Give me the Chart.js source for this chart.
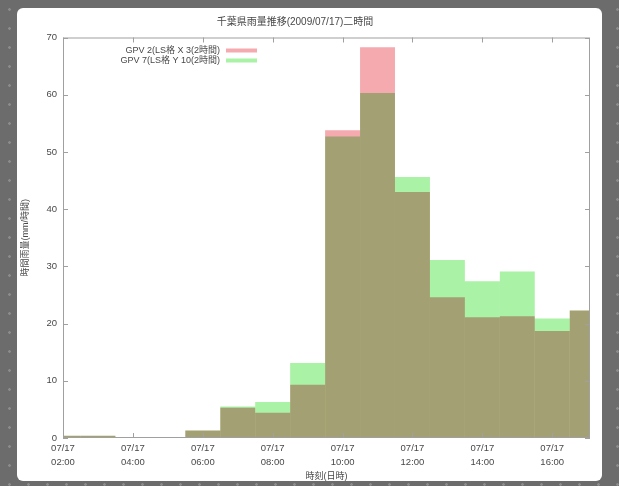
<!DOCTYPE html>
<html>
<head>
<meta charset="utf-8">
<script src="https://cdn.jsdelivr.net/npm/chart.js@4/dist/chart.umd.min.js"></script>
<style>
  html, body { margin: 0; padding: 0; }
  body {
    width: 619px; height: 486px; overflow: hidden; position: relative;
    background-color: #6c6c6c;
    background-image: radial-gradient(circle, rgba(255,255,255,0.22) 1px, transparent 1.6px);
    background-size: 19px 19px;
  }
  #panel {
    position: absolute; left: 17px; top: 8px; width: 585px; height: 473px;
    background: #ffffff; border-radius: 6px;
  }
  #chart { position: absolute; left: 0; top: 0; }
</style>
</head>
<body>
<div id="panel"></div>
<canvas id="chart" width="619" height="486"></canvas>
<script>
// Hourly totals, bars centred on each hour
const hours = [2, 3, 4, 5, 6, 7, 8, 9, 10, 11, 12, 13, 14, 15, 16, 17];
const seriesA = [0.4, 0.4, 0.1, 0.1, 1.3, 5.3, 4.4, 9.3, 53.8, 68.3, 43.0, 24.6, 21.1, 21.3, 18.7, 22.3];
const seriesB = [0.4, 0.4, 0.1, 0.1, 1.3, 5.5, 6.3, 13.1, 52.7, 60.3, 45.6, 31.1, 27.4, 29.1, 20.9, 22.3];
const seriesNames = ['GPV 2(LS格 X 3(2時間)', 'GPV 7(LS格 Y 10(2時間)'];
const seriesColors = ['#f5aab0', '#aaf2a6'];

// Axis ticks
const tickDate = '07/17';
const tickHours = [2, 4, 6, 8, 10, 12, 14, 16];
const yTicks = [0, 10, 20, 30, 40, 50, 60, 70];

const titleText = '千葉県雨量推移(2009/07/17)二時間';
const xTitle = '時刻(日時)';
const yTitle = '時間雨量(mm/時間)';

const FONT = "'Liberation Sans', 'Noto Sans CJK JP', sans-serif";
const TEXT = '#484848';
const FRAME = '#a0a0a0';

const pad2 = n => (n < 10 ? '0' : '') + n;

// Overlapping bars are multiplied so the shared part turns olive
const multiplyBars = {
  id: 'multiplyBars',
  beforeDatasetsDraw(chart) { chart.ctx.save(); chart.ctx.globalCompositeOperation = 'multiply'; },
  afterDatasetsDraw(chart) { chart.ctx.restore(); }
};

// Plot frame, inward tick marks and the in-plot key
const frameAndKey = {
  id: 'frameAndKey',
  afterDraw(chart) {
    const { ctx, chartArea: a, scales } = chart;
    ctx.save();
    ctx.strokeStyle = FRAME;
    ctx.lineWidth = 1;
    ctx.strokeRect(a.left + 0.5, a.top + 0.5, a.right - a.left - 1, a.bottom - a.top - 1);
    const tl = 5;
    ctx.beginPath();
    scales.x.ticks.forEach(t => {
      const px = Math.round(scales.x.getPixelForValue(t.value)) + 0.5;
      ctx.moveTo(px, a.bottom); ctx.lineTo(px, a.bottom - tl);
      ctx.moveTo(px, a.top); ctx.lineTo(px, a.top + tl);
    });
    scales.y.ticks.forEach(t => {
      const py = Math.round(scales.y.getPixelForValue(t.value)) + 0.5;
      ctx.moveTo(a.left, py); ctx.lineTo(a.left + tl, py);
      ctx.moveTo(a.right, py); ctx.lineTo(a.right - tl, py);
    });
    ctx.stroke();

    ctx.font = '9px ' + FONT;
    ctx.fillStyle = TEXT;
    ctx.textAlign = 'right';
    ctx.textBaseline = 'middle';
    const textX = a.left + 157;
    seriesNames.forEach((name, i) => {
      const y = a.top + 13 + i * 10;
      ctx.fillText(name, textX, y);
      ctx.fillStyle = seriesColors[i];
      ctx.fillRect(textX + 6, y - 2, 31, 4);
      ctx.fillStyle = TEXT;
    });
    ctx.restore();
  }
};

const toPoints = vals => hours.map((h, i) => ({ x: h, y: vals[i] }));

new Chart(document.getElementById('chart'), {
  type: 'bar',
  data: {
    datasets: [
      { label: seriesNames[0], data: toPoints(seriesA), backgroundColor: seriesColors[0] },
      { label: seriesNames[1], data: toPoints(seriesB), backgroundColor: seriesColors[1] }
    ]
  },
  options: {
    responsive: false,
    animation: false,
    devicePixelRatio: 1,
    datasets: {
      bar: { borderWidth: 0, inflateAmount: 0, barPercentage: 1, categoryPercentage: 1, grouped: false }
    },
    layout: { padding: { left: 0, right: 29, top: 0, bottom: 0 } },
    plugins: {
      legend: { display: false },
      tooltip: { enabled: false },
      title: {
        display: true, text: titleText, color: TEXT,
        font: { family: FONT, size: 10, weight: 'normal', lineHeight: 1.1 },
        padding: { top: 17, bottom: 9.5 }
      }
    },
    scales: {
      x: {
        type: 'linear', min: 2, max: 17.08, offset: false,
        afterBuildTicks: s => { s.ticks = tickHours.map(v => ({ value: v })); },
        afterFit: s => { s.height = 48; },
        grid: { display: false, drawTicks: false },
        border: { display: false },
        ticks: {
          autoSkip: false, maxRotation: 0, padding: 4, color: TEXT,
          font: { family: FONT, size: 9.5, lineHeight: 1.4 },
          callback: v => [tickDate, pad2(v) + ':00']
        },
        title: {
          display: true, text: xTitle, color: TEXT,
          font: { family: FONT, size: 9, lineHeight: 1.2 },
          padding: { top: 0, bottom: 4 }
        }
      },
      y: {
        min: 0, max: 70,
        afterBuildTicks: s => { s.ticks = yTicks.map(v => ({ value: v })); },
        afterFit: s => { s.width = 63; },
        grid: { display: false, drawTicks: false },
        border: { display: false },
        ticks: {
          padding: 6, color: TEXT,
          font: { family: FONT, size: 9.5 }
        },
        title: {
          display: true, text: yTitle, color: TEXT,
          font: { family: FONT, size: 9, lineHeight: 1.2 },
          padding: { top: 20, bottom: 0 }
        }
      }
    }
  },
  plugins: [multiplyBars, frameAndKey]
});
</script>
</body>
</html>
